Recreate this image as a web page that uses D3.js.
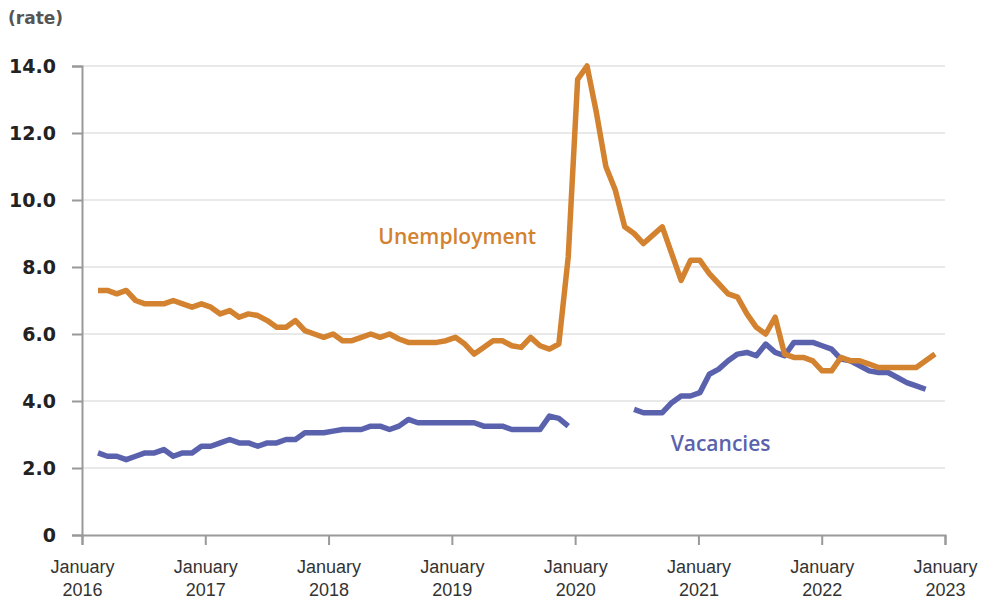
<!DOCTYPE html>
<html>
<head>
<meta charset="utf-8">
<script src="https://cdn.jsdelivr.net/npm/d3@7"></script>
<style>
  body { margin: 0; background: #fff; }
  svg { font-family: "Open Sans", "Noto Sans", sans-serif; }
  .grid line { stroke: #d3d3d3; stroke-width: 1.2; }
  .axis path, .axis line { stroke: #999; stroke-width: 2; }
  .axis-y text { font-family: "DejaVu Sans", sans-serif; font-size: 19px; font-weight: 700; fill: #222; }
  .axis-x text { font-size: 18px; fill: #333; }
</style>
</head>
<body>
<div id="chart"></div>
<script>
// months Jan 2016 .. Jun 2023, one value per month
var startYear = 2016, nMonths = 90;

var unemployment = [
  7.3, 7.3, 7.2, 7.3, 7.0, 6.9, 6.9, 6.9, 7.0, 6.9, 6.8, 6.9,
  6.8, 6.6, 6.7, 6.5, 6.6, 6.55, 6.4, 6.2, 6.2, 6.4, 6.1, 6.0,
  5.9, 6.0, 5.8, 5.8, 5.9, 6.0, 5.9, 6.0, 5.85, 5.75, 5.75, 5.75,
  5.75, 5.8, 5.9, 5.7, 5.4, 5.6, 5.8, 5.8, 5.65, 5.6, 5.9, 5.65,
  5.55, 5.7, 8.3, 13.6, 14.0, 12.6, 11.0, 10.3, 9.2, 9.0, 8.7, 8.95,
  9.2, 8.4, 7.6, 8.2, 8.2, 7.8, 7.5, 7.2, 7.1, 6.6, 6.2, 6.0,
  6.5, 5.4, 5.3, 5.3, 5.2, 4.9, 4.9, 5.3, 5.2, 5.2, 5.1, 5.0,
  5.0, 5.0, 5.0, 5.0, 5.2, 5.4
];

var vacancies = [
  2.45, 2.35, 2.35, 2.25, 2.35, 2.45, 2.45, 2.55, 2.35, 2.45, 2.45, 2.65,
  2.65, 2.75, 2.85, 2.75, 2.75, 2.65, 2.75, 2.75, 2.85, 2.85, 3.05, 3.05,
  3.05, 3.1, 3.15, 3.15, 3.15, 3.25, 3.25, 3.15, 3.25, 3.45, 3.35, 3.35,
  3.35, 3.35, 3.35, 3.35, 3.35, 3.25, 3.25, 3.25, 3.15, 3.15, 3.15, 3.15,
  3.55, 3.48, 3.25, null, null, null, null, null, null, 3.75, 3.65, 3.65,
  3.65, 3.95, 4.15, 4.15, 4.25, 4.8, 4.95, 5.2, 5.4, 5.45, 5.35, 5.7,
  5.45, 5.35, 5.75, 5.75, 5.75, 5.65, 5.55, 5.25, 5.2, 5.05, 4.9, 4.85,
  4.85, 4.7, 4.55, 4.45, 4.35, null
];

var tickLabels = ["January 2016", "January 2017", "January 2018", "January 2019",
                  "January 2020", "January 2021", "January 2022", "January 2023"];
var yTicks = [0, 2, 4, 6, 8, 10, 12, 14];

var months = d3.range(nMonths).map(function(i) { return new Date(startYear, i, 1); });

var margin = {t: 66, r: 43, b: 65, l: 82};
var width = 988 - margin.l - margin.r,
    height = 600 - margin.t - margin.b;

var svg = d3.select('#chart').append('svg')
    .attr('width', 988)
    .attr('height', 600);

var plot = svg.append('g').attr('transform', 'translate(' + margin.l + ',' + margin.t + ')');

// month index -> x ; the labelled axis is spread evenly over the plot
var scaleX = d3.scaleLinear().domain([-1.7, 90.06]).range([0, width]);
var scaleLabel = d3.scalePoint().domain(tickLabels).range([0, width]);
var scaleY = d3.scaleLinear().domain([0, 14]).range([height, 0]);

// gridlines
plot.append('g').attr('class', 'grid')
    .selectAll('line')
    .data(yTicks.filter(function(d) { return d > 0; }))
    .enter().append('line')
    .attr('x1', 0).attr('x2', width)
    .attr('y1', function(d) { return scaleY(d); })
    .attr('y2', function(d) { return scaleY(d); });

// axes
var axisY = d3.axisLeft(scaleY).tickValues(yTicks).tickSize(10).tickPadding(16)
    .tickFormat(function(d) { return d === 0 ? '0' : d3.format('.1f')(d); });
plot.append('g').attr('class', 'axis axis-y').call(axisY);

var axisX = d3.axisBottom(scaleLabel).tickSize(10).tickPadding(11);
var gx = plot.append('g').attr('class', 'axis axis-x')
    .attr('transform', 'translate(0,' + height + ')')
    .call(axisX);
gx.selectAll('.tick text').each(function(d) {
    var t = d3.select(this).text(null);
    var parts = d.split(' ');
    t.append('tspan').attr('x', 0).attr('dy', '0.95em').text(parts[0]);
    t.append('tspan').attr('x', 0).attr('dy', '1.25em').text(parts[1]);
});

// lines
var line = d3.line()
    .defined(function(d) { return d != null; })
    .x(function(d, i) { return scaleX(i); })
    .y(function(d) { return scaleY(d); });

plot.append('path').datum(vacancies)
    .attr('fill', 'none').attr('stroke', '#5a62ad').attr('stroke-width', 5.5)
    .attr('stroke-linejoin', 'round')
    .attr('d', line);

plot.append('path').datum(unemployment)
    .attr('fill', 'none').attr('stroke', '#d3822f').attr('stroke-width', 5.5)
    .attr('stroke-linejoin', 'round')
    .attr('d', line);

// labels
svg.append('text').attr('x', 8).attr('y', 24)
    .style('font-family', '"DejaVu Sans", sans-serif')
    .style('font-size', '17px').style('font-weight', 700).style('fill', '#555')
    .text('(rate)');

plot.append('text')
    .attr('x', scaleX(38.2)).attr('y', scaleY(8.7))
    .attr('text-anchor', 'middle')
    .style('font-size', '21px').style('font-weight', 600).style('fill', '#d3822f')
    .text('Unemployment');

plot.append('text')
    .attr('x', scaleX(66.2)).attr('y', scaleY(2.5))
    .attr('text-anchor', 'middle')
    .style('font-size', '21px').style('font-weight', 600).style('fill', '#5a62ad')
    .text('Vacancies');
</script>
</body>
</html>
